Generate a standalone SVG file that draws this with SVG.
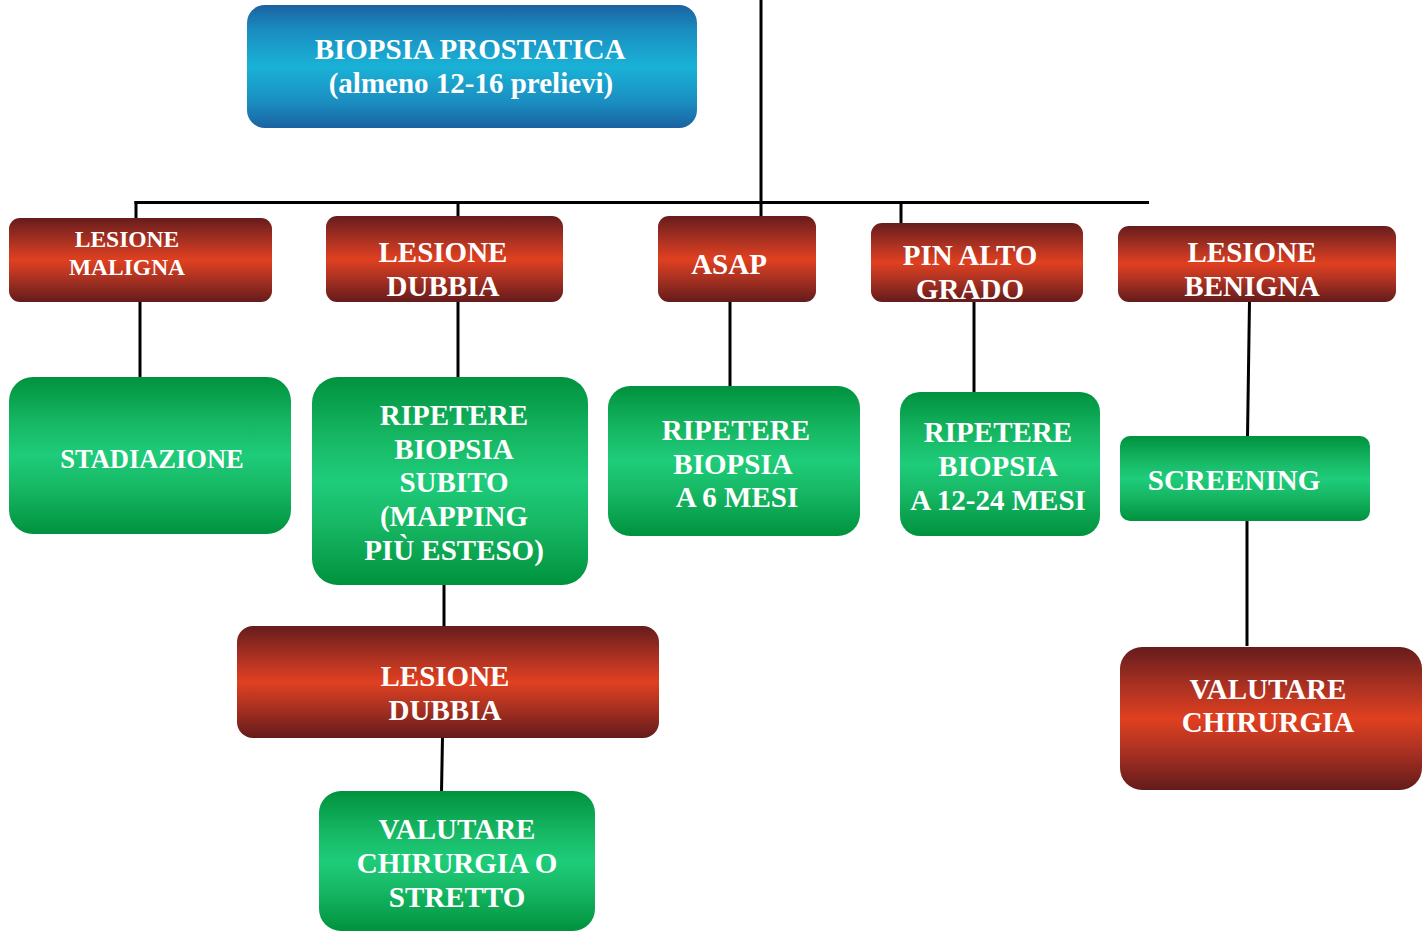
<svg xmlns="http://www.w3.org/2000/svg" width="1422" height="933" viewBox="0 0 1422 933">
  <defs>
    <linearGradient id="gBlue" x1="0" y1="0" x2="0" y2="1">
      <stop offset="0" stop-color="#1a62a0"/>
      <stop offset="0.2" stop-color="#1a8cc0"/>
      <stop offset="0.5" stop-color="#1ab2d6"/>
      <stop offset="0.8" stop-color="#1a8cc0"/>
      <stop offset="1" stop-color="#1a62a0"/>
    </linearGradient>
    <linearGradient id="gRed" x1="0" y1="0" x2="0" y2="1">
      <stop offset="0" stop-color="#661c1c"/>
      <stop offset="0.3" stop-color="#b03322"/>
      <stop offset="0.5" stop-color="#e04020"/>
      <stop offset="0.7" stop-color="#b03322"/>
      <stop offset="1" stop-color="#641b1b"/>
    </linearGradient>
    <linearGradient id="gGreen" x1="0" y1="0" x2="0" y2="1">
      <stop offset="0" stop-color="#00923e"/>
      <stop offset="0.3" stop-color="#17b865"/>
      <stop offset="0.5" stop-color="#1ecc7a"/>
      <stop offset="0.7" stop-color="#17b865"/>
      <stop offset="1" stop-color="#00923e"/>
    </linearGradient>
  </defs>
  <style>
    text { font-family: 'Liberation Serif', 'Times New Roman', serif; font-weight: 700; fill: #ffffff; text-anchor: middle; font-size: 29px; }
    .small { font-size: 23.5px; }
    .mid { font-size: 26.5px; }
    .blue { fill: url(#gBlue); }
    .red { fill: url(#gRed); }
    .green { fill: url(#gGreen); }
    .link { stroke: #000; stroke-width: 3; fill: none; }
  </style>
  <rect width="1422" height="933" fill="#ffffff"/>

  <!-- connectors -->
  <g id="connectors">
    <line class="link" x1="761" y1="0" x2="761" y2="217"/>
    <line class="link" x1="134.5" y1="202.5" x2="1149" y2="202.5"/>
    <line class="link" x1="136" y1="201" x2="136" y2="219"/>
    <line class="link" x1="458" y1="201" x2="458" y2="217"/>
    <line class="link" x1="901" y1="201" x2="901" y2="224"/>
    <line class="link" x1="140" y1="301" x2="140" y2="378"/>
    <line class="link" x1="458" y1="301" x2="458" y2="378"/>
    <line class="link" x1="730" y1="296" x2="730" y2="390"/>
    <line class="link" x1="974" y1="301" x2="974" y2="398"/>
    <line class="link" x1="1249.5" y1="301" x2="1247.5" y2="437"/>
    <line class="link" x1="1247" y1="520" x2="1247" y2="646"/>
    <line class="link" x1="444" y1="584" x2="444" y2="627"/>
    <line class="link" x1="442.5" y1="737" x2="441.5" y2="792"/>
  </g>

  <g id="biopsia">
    <rect class="blue" x="247" y="5" width="450" height="123" rx="18"/>
    <text x="470" y="59">BIOPSIA PROSTATICA</text>
    <text x="471" y="93">(almeno 12-16 prelievi)</text>
  </g>

  <g id="lesione-maligna">
    <rect class="red" x="9" y="218" width="263" height="84" rx="11"/>
    <text class="small" x="127" y="247">LESIONE</text>
    <text class="small" x="127" y="275">MALIGNA</text>
  </g>

  <g id="lesione-dubbia">
    <rect class="red" x="326" y="216" width="237" height="86" rx="11"/>
    <text x="443" y="262">LESIONE</text>
    <text x="443" y="296">DUBBIA</text>
  </g>

  <g id="asap">
    <rect class="red" x="658" y="216" width="158" height="86" rx="11"/>
    <text x="729" y="274">ASAP</text>
  </g>

  <g id="pin-alto-grado">
    <rect class="red" x="871" y="223" width="212" height="79" rx="11"/>
    <text x="970" y="265">PIN ALTO</text>
    <text x="970" y="299">GRADO</text>
  </g>

  <g id="lesione-benigna">
    <rect class="red" x="1118" y="226" width="278" height="76" rx="11"/>
    <text x="1252" y="262">LESIONE</text>
    <text x="1252" y="296">BENIGNA</text>
  </g>

  <g id="stadiazione">
    <rect class="green" x="9" y="377" width="282" height="157" rx="24"/>
    <text class="mid" x="152" y="468">STADIAZIONE</text>
  </g>

  <g id="ripetere-subito">
    <rect class="green" x="312" y="377" width="276" height="208" rx="26"/>
    <text x="454" y="425">RIPETERE</text>
    <text x="454" y="459">BIOPSIA</text>
    <text x="454" y="492">SUBITO</text>
    <text x="454" y="526">(MAPPING</text>
    <text x="454" y="560">PIÙ ESTESO)</text>
  </g>

  <g id="ripetere-6-mesi">
    <rect class="green" x="608" y="386" width="252" height="150" rx="22"/>
    <text x="736" y="440">RIPETERE</text>
    <text x="733" y="474">BIOPSIA</text>
    <text x="737" y="507">A 6 MESI</text>
  </g>

  <g id="ripetere-12-24-mesi">
    <rect class="green" x="900" y="392" width="200" height="144" rx="20"/>
    <text x="998" y="442">RIPETERE</text>
    <text x="998" y="476">BIOPSIA</text>
    <text x="998" y="510">A 12-24 MESI</text>
  </g>

  <g id="screening">
    <rect class="green" x="1120" y="436" width="250" height="85" rx="10"/>
    <text x="1234" y="490">SCREENING</text>
  </g>

  <g id="valutare-chirurgia">
    <rect class="red" x="1120" y="647" width="302" height="143" rx="22"/>
    <text x="1268" y="699">VALUTARE</text>
    <text x="1268" y="732">CHIRURGIA</text>
  </g>

  <g id="lesione-dubbia-2">
    <rect class="red" x="237" y="626" width="422" height="112" rx="16"/>
    <text x="445" y="686">LESIONE</text>
    <text x="445" y="720">DUBBIA</text>
  </g>

  <g id="valutare-chirurgia-stretto">
    <rect class="green" x="319" y="791" width="276" height="140" rx="22"/>
    <text x="457" y="839">VALUTARE</text>
    <text x="457" y="873">CHIRURGIA O</text>
    <text x="457" y="907">STRETTO</text>
  </g>
</svg>
